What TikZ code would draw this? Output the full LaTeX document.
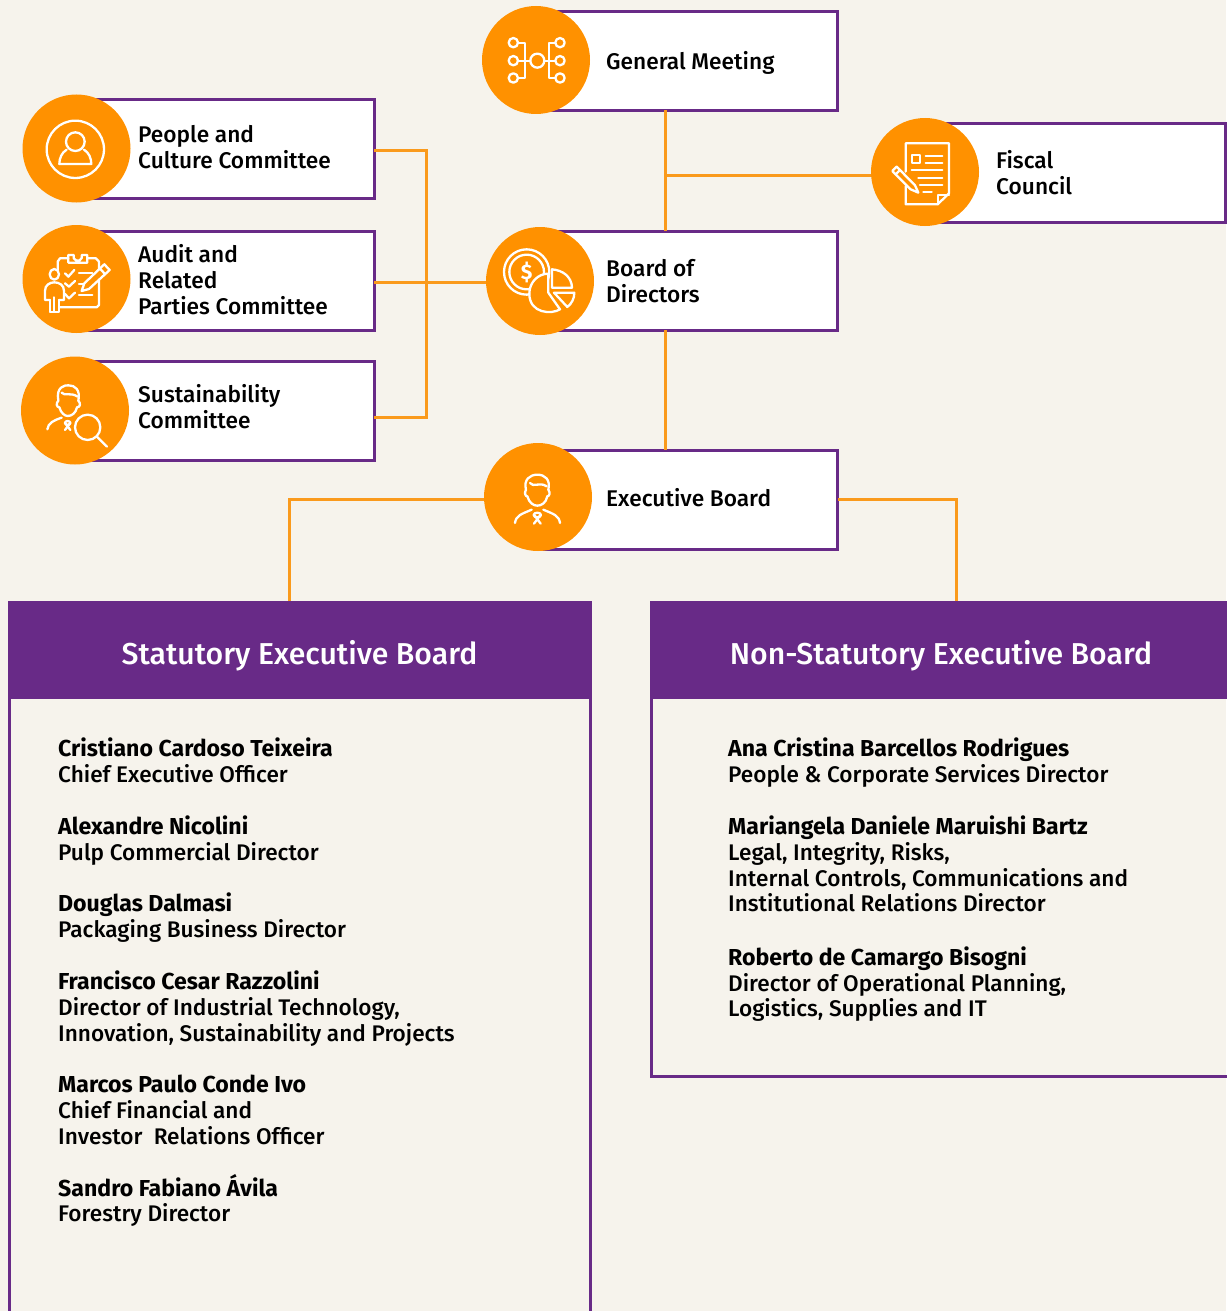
\documentclass[tikz,border=0pt]{standalone}
\usepackage{fontspec}
\setmainfont{Fira Sans}[BoldFont={Fira Sans Bold}]
\newfontfamily\medfont{Fira Sans Medium}
\definecolor{bgc}{HTML}{F6F3EC}
\definecolor{org}{HTML}{FF9100}
\definecolor{lnk}{HTML}{FA9A1C}
\definecolor{pur}{HTML}{682A87}
\tikzset{
  box/.style={draw=pur,line width=3pt,fill=white,anchor=north west,inner sep=0pt,outer sep=0pt},
  disc/.style={circle,fill=org,inner sep=0pt,minimum size=108pt},
  link/.style={draw=lnk,line width=3pt},
  lbl/.style={anchor=west,align=left,inner sep=0pt,font=\fontsize{22.7}{26}\selectfont\medfont,text=black},
  txt/.style={anchor=north west,align=left,inner sep=0pt,font=\fontsize{22.6}{25.83}\selectfont\medfont,text=black},
  head/.style={font=\fontsize{30.2}{34}\selectfont\medfont,text=white,inner sep=0pt},
  ic/.style={draw=white,line width=2.3pt,line cap=round,line join=round},
  icx/.style={ic,fill=org},
}
\newcommand{\nm}[1]{{\fontsize{23.1}{25.83}\selectfont\rmfamily\bfseries #1}}
\begin{document}
\begin{tikzpicture}[x=1pt,y=-1pt]
\useasboundingbox (0,0) rectangle (1226,1311);
\fill[bgc] (0,0) rectangle (1226,1311);
% boxes
\node[box,minimum width=302pt,minimum height=99pt] (gmb) at (535.5,11.7) {};
\node[box,minimum width=300.5pt,minimum height=99pt] (fcb) at (924.5,123.7) {};
\node[box,minimum width=302pt,minimum height=99pt] (bdb) at (535.5,231.2) {};
\node[box,minimum width=302pt,minimum height=99pt] (exb) at (535.5,450.5) {};
\node[box,minimum width=299pt,minimum height=99pt] (pcb) at (75,99.7) {};
\node[box,minimum width=299pt,minimum height=99pt] (aub) at (75,231.2) {};
\node[box,minimum width=299pt,minimum height=99pt] (sub) at (75,361.5) {};
% connectors under the discs
\coordinate (jf) at (665.2,175);
\coordinate (tl) at (289.6,601);
\coordinate (tr) at (956.6,601);
\draw[link] (665.2,110) -- (665.2,231);
\draw[link] (665.2,330) -- (665.2,450);
\draw[link] (jf) -- (925,175);
\draw[link] (374,150.5) -| (426.6,417) -- (374,417);
\draw[link] (374,282) -- (490,282);
\draw[link] (490,499) -| (tl);
\draw[link] (838,499) -| (tr);
% discs
\node[disc] (gm) at (536,60) {};
\node[disc] (fc) at (925,172) {};
\node[disc] (bd) at (540,281) {};
\node[disc] (ex) at (538,497) {};
\node[disc] (pc) at (76.500,148.500) {};
\node[disc] (au) at (76.500,279) {};
\node[disc] (su) at (75,410.500) {};
% labels
\node[lbl] (t1) at (606,62.500) {General Meeting};
\node[lbl] (t2) at (996,173) {Fiscal\\Council};
\node[lbl] (t3) at (606,281) {Board of\\Directors};
\node[lbl] (t4) at (606,498) {Executive Board};
\node[lbl] (t5) at (138,147) {People and\\Culture Committee};
\node[lbl] (t6) at (138,280) {Audit and\\Related\\Parties Committee};
\node[lbl] (t7) at (138,407) {Sustainability\\Committee};
% panels
\draw[pur,line width=3pt] (9.500,650) -- (9.500,1320) (590.500,650) -- (590.500,1320);
\draw[pur,line width=3pt] (651.500,650) -- (651.500,1076) -- (1240,1076);
\node[fill=pur,minimum width=584pt,minimum height=98pt,inner sep=0pt,outer sep=0pt,anchor=north west] (lh) at (8,601) {};
\node[fill=pur,minimum width=590pt,minimum height=98pt,inner sep=0pt,outer sep=0pt,anchor=north west] (rh) at (650,601) {};
\node[head] (lht) at (299.500,656) {Statutory Executive Board};
\node[head] (rht) at (941,656) {Non-Statutory Executive Board};
% people
\node[txt] (lp) at (58,738) {%
\nm{Cristiano Cardoso Teixeira}\\Chief Executive Officer\\[25.830pt]
\nm{Alexandre Nicolini}\\Pulp Commercial Director\\[25.830pt]
\nm{Douglas Dalmasi}\\Packaging Business Director\\[25.830pt]
\nm{Francisco Cesar Razzolini}\\Director of Industrial Technology,\\Innovation, Sustainability and Projects\\[25.830pt]
\nm{Marcos Paulo Conde Ivo}\\Chief Financial and\\Investor\ \ Relations Officer\\[25.830pt]
\nm{Sandro Fabiano Ávila}\\Forestry Director};
\node[txt] (rp) at (728,738) {%
\nm{Ana Cristina Barcellos Rodrigues}\\People \& Corporate Services Director\\[25.830pt]
\nm{Mariangela Daniele Maruishi Bartz}\\Legal, Integrity, Risks,\\Internal Controls, Communications and\\Institutional Relations Director\\[27.500pt]
\nm{Roberto de Camargo Bisogni}\\Director of Operational Planning,\\Logistics, Supplies and IT};
% icon GM
\begin{scope}[shift={(480,0)},x=0.3333pt,y=-0.3333pt]
\draw[ic] (100,128) circle[radius=14] (100,182) circle[radius=14] (100,234) circle[radius=14];
\draw[ic] (240,128) circle[radius=14] (240,182) circle[radius=14] (240,234) circle[radius=14];
\draw[ic] (172,182) circle[radius=21];
\draw[ic] (114,128) -- (135,128) -- (135,234) -- (114,234) (114,182) -- (151,182) (193,182) -- (226,182) (226,128) -- (208,128) -- (208,234) -- (226,234);
\end{scope}
% icon Fiscal
\begin{scope}[shift={(865,110)},x=0.3333pt,y=-0.3333pt]
\draw[ic] (122,185) -- (122,100) -- (252,100) -- (252,250) -- (218,283) -- (122,283) -- (122,228);
\draw[ic] (218,283) -- (218,254) -- (252,254);
\draw[ic] (142,136) rectangle (164,160);
\draw[ic] (182,137) -- (232,137) (182,158) -- (232,158) (140,181) -- (232,181) (160,203) -- (232,203) (165,225) -- (232,225) (175,246) -- (200,246);
\draw[icx] (82,183) -- (95,170) -- (150,226) -- (160,248) -- (137,238) -- cycle;
\draw[ic] (92,193) -- (105,180);
\end{scope}
% icon People
\begin{scope}[shift={(15,90)},x=0.3333pt,y=-0.3333pt]
\draw[ic] (181,178) circle[radius=86];
\draw[ic] (181,155) circle[radius=28];
\draw[ic] (155,179) .. controls (140,188) and (133,205) .. (133,222) -- (229,222) .. controls (229,205) and (222,188) .. (207,179);
\end{scope}
% icon Audit
\begin{scope}[shift={(15,220)},x=0.3333pt,y=-0.3333pt]
\draw[ic] (128,150) -- (128,125) -- (135,115) -- (160,115);
\draw[ic] (160,128) -- (160,105) -- (176,105) arc[start angle=200,end angle=-20,radius=13] -- (217,105) -- (217,128) -- cycle;
\draw[ic] (217,115) -- (243,115) -- (252,125) -- (252,255) -- (245,262) -- (135,262);
\draw[ic] (150,160) -- (160,170) -- (178,150) (150,190) -- (162,200) -- (180,183) (150,222) -- (162,235) -- (180,218);
\draw[ic] (192,160) -- (232,160) (192,192) -- (205,192) (192,226) -- (232,226);
\draw[icx] (200,213) -- (208,190) -- (268,133) -- (284,150) -- (222,207) -- cycle;
\draw[ic] (255,146) -- (271,163);
\draw[ic] (105,275) -- (105,240) (132,240) -- (132,275) -- (105,275) (118,275) -- (118,232);
\draw[ic] (105,240) -- (90,240) -- (90,212) .. controls (90,195) and (105,187) .. (118,187) .. controls (132,187) and (147,195) .. (147,212) -- (147,240) -- (132,240);
\draw[ic] (118,163) ellipse[x radius=14,y radius=16];
\end{scope}
% icon Sustainability
\begin{scope}[shift={(15,350)},x=0.3333pt,y=-0.3333pt]
\draw[ic] (130,152) .. controls (122,110) and (150,105) .. (160,106) .. controls (180,105) and (197,120) .. (190,152);
\draw[ic] (140,128) .. controls (150,140) and (165,125) .. (188,140);
\draw[ic] (130,152) .. controls (122,160) and (125,172) .. (133,172) .. controls (138,190) and (150,198) .. (158,198) .. controls (170,198) and (182,190) .. (186,172) .. controls (196,172) and (198,160) .. (190,152);
\draw[ic] (97,238) .. controls (100,218) and (115,212) .. (140,203);
\draw[ic] (150,240) -- (166,218) (166,240) -- (150,218);
\draw[ic] (158,219) ellipse[x radius=8,y radius=6];
\draw[icx] (218,232) circle[radius=38];
\draw[ic] (246,260) -- (276,290);
\end{scope}
% icon Board
\begin{scope}[shift={(480,222)},x=0.3333pt,y=-0.3333pt]
\draw[ic] (140,150) circle[radius=68];
\draw[ic] (140,150) circle[radius=52];
\node[text=white,inner sep=0pt,font=\fontsize{21}{21}\selectfont\bfseries] (dl) at (140,152) {\$};
\draw[icx] (205,155) -- (205,212) -- (240,262) .. controls (215,278) and (148,275) .. (148,215) .. controls (148,180) and (175,155) .. (205,155) -- cycle;
\draw[icx] (216,142) .. controls (250,145) and (275,165) .. (276,197) -- (216,197) -- cycle;
\draw[icx] (222,212) -- (283,212) .. controls (283,230) and (275,245) .. (262,255) -- cycle;
\end{scope}
% icon Executive
\begin{scope}[shift={(480,438)},x=0.3333pt,y=-0.3333pt]
\draw[ic] (138,155) .. controls (130,125) and (150,110) .. (172,110) .. controls (195,110) and (212,125) .. (205,155);
\draw[ic] (150,135) .. controls (160,150) and (178,130) .. (200,145);
\draw[ic] (138,155) .. controls (132,165) and (136,175) .. (142,175) .. controls (148,195) and (160,203) .. (172,203) .. controls (184,203) and (198,195) .. (202,175) .. controls (208,175) and (212,165) .. (205,155);
\draw[ic] (105,255) .. controls (108,232) and (125,228) .. (155,215);
\draw[ic] (240,255) .. controls (237,232) and (220,228) .. (190,215);
\draw[ic] (162,257) -- (182,230) (182,257) -- (162,230);
\draw[ic] (172,231) ellipse[x radius=11,y radius=7];
\end{scope}
\end{tikzpicture}
\end{document}
